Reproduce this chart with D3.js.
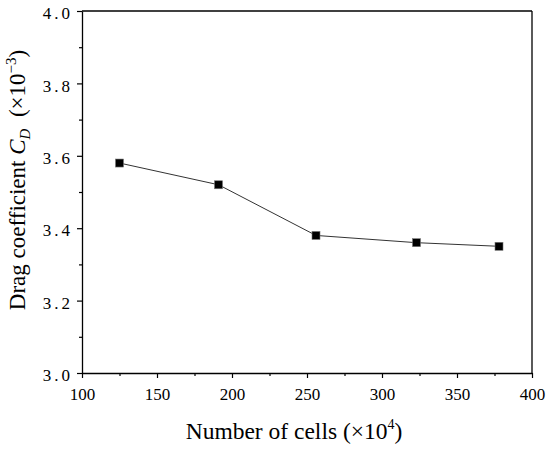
<!DOCTYPE html>
<html><head><meta charset="utf-8">
<script src="https://cdn.jsdelivr.net/npm/d3@7"></script>
<style>
body{margin:0;background:#fff;}
svg text{font-family:"Liberation Serif","Times New Roman",serif;fill:#000;}
</style></head>
<body><svg id="c" width="550" height="449"></svg>
<script>
const cells = [125, 191, 256, 323, 378];
const dragCoef = [3.58, 3.52, 3.38, 3.36, 3.35];
const xTicks = [100, 150, 200, 250, 300, 350, 400];
const yTicks = [3.0, 3.2, 3.4, 3.6, 3.8, 4.0];

const W = 550, H = 449;
const m = {l: 82, r: 18, t: 11, b: 76};
const FONT = "Liberation Serif, Times New Roman, serif";
const svg = d3.select("#c");
const x = d3.scaleLinear().domain([100, 400]).range([m.l, W - m.r]);
const y = d3.scaleLinear().domain([3.0, 4.0]).range([H - m.b, m.t]);

// minor ticks
const xMinor = d3.range(125, 400, 50);
const yMinor = d3.range(3.1, 4.0, 0.2);
svg.append("g").attr("transform", `translate(0,${H - m.b})`)
  .call(d3.axisBottom(x).tickValues(xMinor).tickSize(3).tickFormat("").tickSizeOuter(0))
  .call(g => g.select(".domain").remove())
  .call(g => g.selectAll("line").attr("stroke", "#000").attr("stroke-width", 1.2));
svg.append("g").attr("transform", `translate(${m.l},0)`)
  .call(d3.axisLeft(y).tickValues(yMinor).tickSize(3).tickFormat("").tickSizeOuter(0))
  .call(g => g.select(".domain").remove())
  .call(g => g.selectAll("line").attr("stroke", "#000").attr("stroke-width", 1.2));

// major axes
const gx = svg.append("g").attr("transform", `translate(0,${H - m.b})`)
  .call(d3.axisBottom(x).tickValues(xTicks).tickSize(5).tickPadding(10).tickSizeOuter(0).tickFormat(d3.format("d")))
  .attr("font-family", FONT).attr("font-size", 17);
gx.selectAll("text").attr("fill", "#000");
const gy = svg.append("g").attr("transform", `translate(${m.l},0)`)
  .call(d3.axisLeft(y).tickValues(yTicks).tickSize(5).tickPadding(4).tickSizeOuter(0).tickFormat(d3.format(".1f")))
  .attr("font-family", FONT).attr("font-size", 17);
gy.selectAll("text").attr("dy", "0.45em").attr("letter-spacing", 3).attr("fill", "#000");
[gx, gy].forEach(g => {
  g.select(".domain").attr("stroke", "#000").attr("stroke-width", 1.3);
  g.selectAll(".tick line").attr("stroke", "#000").attr("stroke-width", 1.2);
});

// top & right border
svg.append("line").attr("x1", x(100)).attr("x2", x(400)).attr("y1", y(4.0)).attr("y2", y(4.0))
  .attr("stroke", "#000").attr("stroke-width", 1.3);
svg.append("line").attr("x1", x(400)).attr("x2", x(400)).attr("y1", y(4.0)).attr("y2", y(3.0))
  .attr("stroke", "#000").attr("stroke-width", 1.3);

// line + markers
const pts = cells.map((c, i) => [c, dragCoef[i]]);
svg.append("path").datum(pts)
  .attr("d", d3.line().x(d => x(d[0])).y(d => y(d[1])))
  .attr("fill", "none").attr("stroke", "#333").attr("stroke-width", 1);
const s = 8;
svg.selectAll("rect.pt").data(pts).join("rect").attr("class", "pt")
  .attr("x", d => x(d[0]) - s / 2).attr("y", d => y(d[1]) - s / 2)
  .attr("width", s).attr("height", s)
  .attr("fill", "#000").attr("stroke", "#777").attr("stroke-width", 0.6);

// x title
const xt = svg.append("text").attr("x", (x(100) + x(400)) / 2 - 13).attr("y", 439)
  .attr("text-anchor", "middle").attr("font-size", 23.5);
xt.append("tspan").text("Number of cells (×10");
xt.append("tspan").attr("font-size", 14).attr("dy", -10).text("4");
xt.append("tspan").attr("dy", 10).text(")");

// y title
const yt = svg.append("text").attr("transform", "translate(25,180) rotate(-90)")
  .attr("text-anchor", "middle").attr("font-size", 23);
yt.append("tspan").text("Drag coefficient ");
yt.append("tspan").attr("font-style", "italic").text("C");
yt.append("tspan").attr("font-style", "italic").attr("font-size", 15).attr("dy", 5).text("D");
yt.append("tspan").attr("dy", -5).attr("xml:space", "preserve").text("\u00a0\u00a0(×10");
yt.append("tspan").attr("font-size", 15).attr("dy", -9).text("−3");
yt.append("tspan").attr("dy", 9).text(")");
</script></body></html>
